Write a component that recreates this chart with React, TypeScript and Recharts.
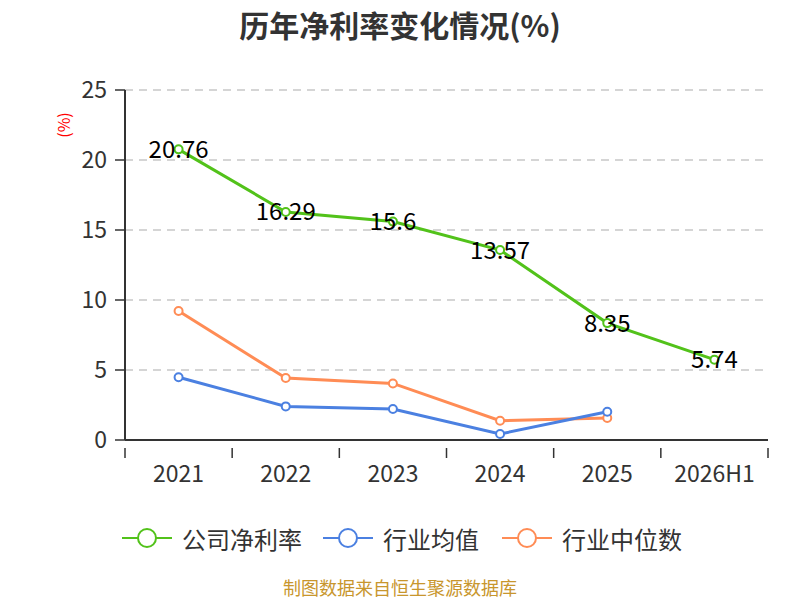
import { CartesianGrid, LabelList, Line, LineChart, XAxis, YAxis } from "recharts";

const CATEGORIES = ["2021", "2022", "2023", "2024", "2025", "2026H1"];
const COMPANY_RATE = [20.76, 16.29, 15.6, 13.57, 8.35, 5.74];
const INDUSTRY_AVG = [4.48, 2.4, 2.21, 0.43, 2.02, null];
const INDUSTRY_MEDIAN = [9.21, 4.43, 4.04, 1.38, 1.57, null];
const Y_TICKS = [0, 5, 10, 15, 20, 25];

const GREEN = "#52c21a";
const BLUE = "#4b80e1";
const ORANGE = "#ff8c55";
const FONT = "'Noto Sans CJK SC', 'Noto Sans', sans-serif";

// x sits in the middle of each band so ticks can land on the band edges
const data = CATEGORIES.map((name, i) => ({
  x: i + 0.5,
  name,
  company: COMPANY_RATE[i],
  avg: INDUSTRY_AVG[i],
  median: INDUSTRY_MEDIAN[i],
}));

const X_TICKS = [0, 0.5, 1, 1.5, 2, 2.5, 3, 3.5, 4, 4.5, 5, 5.5, 6];

function XTick({ x, y, payload }: any) {
  const v = payload.value as number;
  if (Number.isInteger(v)) {
    return <line x1={x} y1={y} x2={x} y2={y + 10} stroke="#333" strokeWidth={1.5} />;
  }
  return (
    <text x={x} y={y + 34} textAnchor="middle" fontSize={23} fill="#333" fontFamily={FONT}>
      {CATEGORIES[Math.floor(v)]}
    </text>
  );
}

const LEGEND = [
  { label: "公司净利率", color: GREEN, left: 122 },
  { label: "行业均值", color: BLUE, left: 323 },
  { label: "行业中位数", color: ORANGE, left: 502 },
];

export default function App() {
  return (
    <div style={{ position: "fixed", left: 0, top: 0, width: 800, height: 600, background: "#fff", fontFamily: FONT }}>
      <div style={{ position: "absolute", top: 4, width: 800, textAlign: "center", fontSize: 30, lineHeight: "40px", fontWeight: "bold", color: "#333" }}>
        历年净利率变化情况(%)
      </div>
      <div
        style={{
          position: "absolute",
          left: 63,
          top: 125,
          transform: "translate(-50%, -50%) rotate(-90deg)",
          color: "#f00",
          fontSize: 16,
          lineHeight: "18px",
        }}
      >
        (%)
      </div>
      <LineChart width={800} height={600} data={data} margin={{ top: 90, right: 32, left: 0, bottom: 0 }}>
        <CartesianGrid horizontal vertical={false} stroke="#c8c8c8" strokeDasharray="8 6" strokeWidth={1.5} />
        <XAxis
          type="number"
          dataKey="x"
          domain={[0, 6]}
          ticks={X_TICKS}
          interval={0}
          tick={<XTick />}
          tickLine={false}
          axisLine={{ stroke: "#333", strokeWidth: 2 }}
          height={160}
        />
        <YAxis
          domain={[0, 25]}
          ticks={Y_TICKS}
          width={125}
          tickSize={10}
          tickMargin={8}
          tick={{ fontSize: 23, fill: "#333", fontFamily: FONT }}
          tickLine={{ stroke: "#333", strokeWidth: 1.5 }}
          axisLine={{ stroke: "#333", strokeWidth: 2 }}
        />
        <Line
          dataKey="median"
          stroke={ORANGE}
          strokeWidth={3}
          dot={{ r: 4, fill: "#fff", stroke: ORANGE, strokeWidth: 2 }}
          isAnimationActive={false}
        />
        <Line
          dataKey="avg"
          stroke={BLUE}
          strokeWidth={3}
          dot={{ r: 4, fill: "#fff", stroke: BLUE, strokeWidth: 2 }}
          isAnimationActive={false}
        />
        <Line
          dataKey="company"
          stroke={GREEN}
          strokeWidth={3}
          dot={{ r: 4, fill: "#fff", stroke: GREEN, strokeWidth: 2 }}
          isAnimationActive={false}
        >
          <LabelList dataKey="company" position="center" fontSize={24} fill="#000" fontFamily={FONT} />
        </Line>
      </LineChart>
      {LEGEND.map((item) => (
        <div key={item.label} style={{ position: "absolute", left: item.left, top: 520, display: "flex", alignItems: "center", height: 36 }}>
          <svg width={50} height={22}>
            <line x1={0} y1={11} x2={50} y2={11} stroke={item.color} strokeWidth={2} />
            <circle cx={25} cy={11} r={9} fill="#fff" stroke={item.color} strokeWidth={2} />
          </svg>
          <span style={{ marginLeft: 10, fontSize: 24, color: "#333" }}>{item.label}</span>
        </div>
      ))}
      <div style={{ position: "absolute", top: 574, width: 800, textAlign: "center", fontSize: 18, lineHeight: "26px", color: "#c8962d" }}>
        制图数据来自恒生聚源数据库
      </div>
    </div>
  );
}
